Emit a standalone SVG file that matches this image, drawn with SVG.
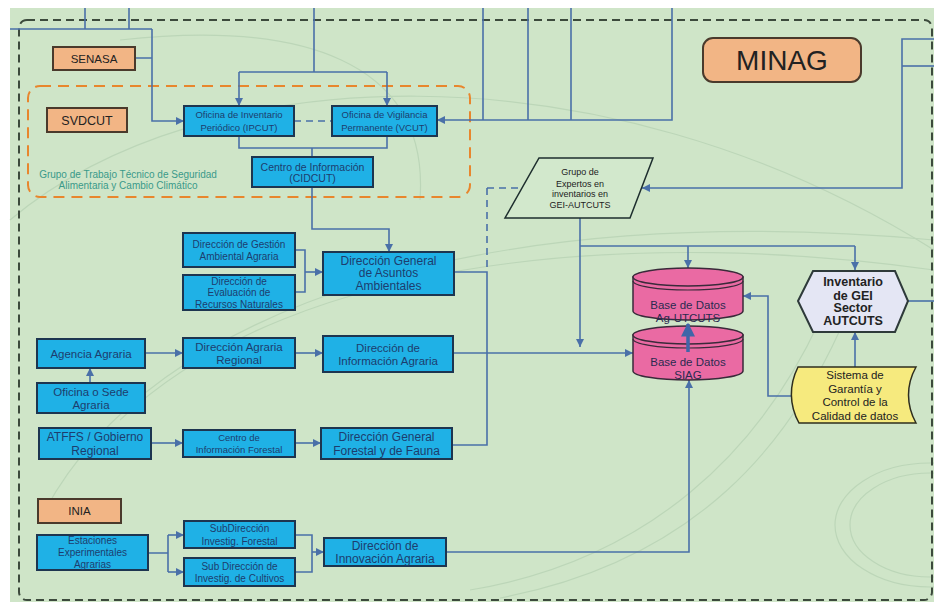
<svg xmlns="http://www.w3.org/2000/svg" width="934" height="602" viewBox="0 0 934 602">
<style>
.b{fill:#1fb1e6;stroke:#1d3550;stroke-width:2}
.o{fill:#f2b585;stroke:#4a3a2c;stroke-width:2}
.t{font-family:"Liberation Sans",Arial,sans-serif;fill:#1d3d6e;text-anchor:middle}
.k{font-family:"Liberation Sans",Arial,sans-serif;fill:#222;text-anchor:middle}
.c{fill:none;stroke:#4a70a8;stroke-width:1.6}
.a{marker-end:url(#arr)}
.cyl{fill:#ea6aa3;stroke:#3a2a3a;stroke-width:1.5}
.bgl{fill:none;stroke:#bcd6b8;stroke-width:1.2}
</style>
<defs>
<marker id="arr" viewBox="0 0 10 10" refX="10" refY="5" markerWidth="8" markerHeight="8" markerUnits="userSpaceOnUse" orient="auto"><path d="M0,0 L10,5 L0,10 z" fill="#4a70a8"/></marker>
<marker id="arrb" viewBox="0 0 10 10" refX="9" refY="5" markerWidth="14" markerHeight="14" markerUnits="userSpaceOnUse" orient="auto"><path d="M0,0 L10,5 L0,10 z" fill="#3f66a8"/></marker>
</defs>
<rect width="934" height="602" fill="#ffffff"/>
<rect x="10" y="8" width="924" height="594" fill="#cfe5c8"/>
<g id="background-arcs">
<path class="bgl" d="M10,220 C200,60 600,40 934,250"/>
<path class="bgl" d="M40,520 C150,300 500,200 934,240"/>
<path class="bgl" d="M120,420 C300,250 650,230 934,270"/>
<path class="bgl" d="M470,590 C650,560 760,450 820,320"/>
<path class="bgl" d="M500,598 C700,560 790,440 840,330"/>
<ellipse class="bgl" cx="930" cy="525" rx="95" ry="62"/>
<ellipse class="bgl" cx="930" cy="525" rx="80" ry="52"/>
<path class="bgl" d="M120,40 C300,20 430,60 420,200"/>
</g>
<rect x="19" y="20" width="913" height="580" rx="8" fill="none" stroke="#3c4a3c" stroke-width="2" stroke-dasharray="8 5"/>
<rect x="28" y="86" width="442" height="111" rx="12" fill="none" stroke="#e8862d" stroke-width="2" stroke-dasharray="11 7"/>
<g id="connectors">
<path class="c" d="M10,29 H152 M85,8 V29 M129,8 V29 M135,58 H152"/>
<path class="c a" d="M152,29 V121 H184"/>
<path class="c" d="M314,8 V72 M239,72 H387"/>
<path class="c a" d="M239,72 V106"/>
<path class="c a" d="M387,72 V106"/>
<path class="c" d="M483,8 V120 M528,8 V120 M571,8 V120"/>
<path class="c a" d="M672,8 V120 H437"/>
<path class="c" d="M294,121 H332" stroke-dasharray="7 5"/>
<path class="c" d="M239,136 V148 H387 V136 M312,148 V157"/>
<path class="c a" d="M312,187 V229 H389 V252"/>
<path class="c" d="M295,250 H305 V292 H295"/>
<path class="c a" d="M305,272 H323"/>
<path class="c" d="M454,272 H487 V445 H452"/>
<path class="c" d="M487,188 H522 M487,188 V272" stroke-dasharray="7 5"/>
<path class="c a" d="M453,353 H633" stroke-width="2.2"/>
<path class="c a" d="M580,218 V347"/>
<path class="c" d="M580,246 H855"/>
<path class="c a" d="M688,246 V268"/>
<path class="c a" d="M855,246 V270"/>
<path class="c a" d="M934,39 H902 V188 H642"/>
<path class="c" d="M934,66 H902"/>
<path class="c" d="M908,301 H934"/>
<path class="c a" d="M793,396 H768 V296 H743"/>
<path class="c a" d="M855,367 V332"/>
<path class="c a" d="M446,552 H689 V380"/>
<path class="c a" d="M145,353 H183"/>
<path class="c a" d="M295,353 H323"/>
<path class="c a" d="M90,383 V368"/>
<path class="c a" d="M151,443 H183"/>
<path class="c a" d="M295,443 H321"/>
<path class="c" d="M148,553 H168 M168,535 V572"/>
<path class="c a" d="M168,535 H184"/>
<path class="c a" d="M168,572 H184"/>
<path class="c" d="M295,535 H312 V572 H295"/>
<path class="c a" d="M312,552 H324"/>
</g>
<g id="label-grupo-trabajo">
<text class="t" x="128" y="177.5" font-size="10" style="fill:#3a9a8a">Grupo de Trabajo Técnico de Seguridad</text>
<text class="t" x="128" y="188.5" font-size="10" style="fill:#3a9a8a">Alimentaria y Cambio Climático</text>
</g>
<g id="senasa"><rect class="o" x="53" y="47" width="82" height="23"/><text class="k" x="94" y="62.5" font-size="11.5">SENASA</text></g>
<g id="svdcut"><rect class="o" x="47" y="108" width="80" height="24"/><text class="k" x="87" y="124.5" font-size="12.5">SVDCUT</text></g>
<g id="minag"><rect class="o" x="703" y="38" width="158" height="44" rx="10"/><text class="k" x="782" y="70" font-size="28">MINAG</text></g>
<g id="ipcut"><rect class="b" x="184" y="106" width="110" height="30"/><text class="t" x="239" y="117.5" font-size="9.5">Oficina de Inventario</text><text class="t" x="239" y="130.5" font-size="9.5">Periódico (IPCUT)</text></g>
<g id="vcut"><rect class="b" x="332" y="106" width="105" height="30"/><text class="t" x="384.5" y="117.5" font-size="9.5">Oficina de Vigilancia</text><text class="t" x="384.5" y="130.5" font-size="9.5">Permanente (VCUT)</text></g>
<g id="cidcut"><rect class="b" x="252" y="157" width="121" height="30"/><text class="t" x="312.5" y="170.5" font-size="10.5">Centro de Información</text><text class="t" x="312.5" y="182" font-size="10.5">(CIDCUT)</text></g>
<g id="dgga"><rect class="b" x="183" y="233" width="112" height="34"/><text class="t" x="239" y="247.5" font-size="10">Dirección de Gestión</text><text class="t" x="239" y="259.5" font-size="10">Ambiental Agraria</text></g>
<g id="dern"><rect class="b" x="183" y="275" width="112" height="35"/><text class="t" x="239" y="284.5" font-size="10">Dirección de</text><text class="t" x="239" y="296" font-size="10">Evaluación de</text><text class="t" x="239" y="307.5" font-size="10">Recursos Naturales</text></g>
<g id="dgaa"><rect class="b" x="323" y="252" width="131" height="43"/><text class="t" x="388.5" y="264.5" font-size="12">Dirección General</text><text class="t" x="388.5" y="277" font-size="12">de Asuntos</text><text class="t" x="388.5" y="289.5" font-size="12">Ambientales</text></g>
<g id="agencia"><rect class="b" x="37" y="339" width="108" height="29"/><text class="t" x="91" y="357.5" font-size="11.5">Agencia Agraria</text></g>
<g id="dar"><rect class="b" x="183" y="338" width="112" height="30"/><text class="t" x="239" y="351" font-size="11.5">Dirección Agraria</text><text class="t" x="239" y="363.5" font-size="11.5">Regional</text></g>
<g id="dia"><rect class="b" x="323" y="336" width="130" height="36"/><text class="t" x="388" y="351.5" font-size="11.5">Dirección de</text><text class="t" x="388" y="364.5" font-size="11.5">Información Agraria</text></g>
<g id="oficina-sede"><rect class="b" x="37" y="383" width="108" height="30"/><text class="t" x="91" y="395.5" font-size="11.5">Oficina o Sede</text><text class="t" x="91" y="409" font-size="11.5">Agraria</text></g>
<g id="atffs"><rect class="b" x="39" y="428" width="112" height="31"/><text class="t" x="95" y="441" font-size="12">ATFFS / Gobierno</text><text class="t" x="95" y="454.5" font-size="12">Regional</text></g>
<g id="cif"><rect class="b" x="183" y="430" width="112" height="27"/><text class="t" x="239" y="440.5" font-size="9.5">Centro de</text><text class="t" x="239" y="452.5" font-size="9.5">Información Forestal</text></g>
<g id="dgff"><rect class="b" x="321" y="428" width="131" height="31"/><text class="t" x="386.5" y="441" font-size="12">Dirección General</text><text class="t" x="386.5" y="454.5" font-size="12">Forestal y de Fauna</text></g>
<g id="inia"><rect class="o" x="38" y="499" width="83" height="24"/><text class="k" x="79.5" y="515" font-size="11.5">INIA</text></g>
<g id="estaciones"><rect class="b" x="37" y="535" width="111" height="35"/><text class="t" x="92.5" y="543.5" font-size="10">Estaciones</text><text class="t" x="92.5" y="555.5" font-size="10">Experimentales</text><text class="t" x="92.5" y="567.5" font-size="10">Agrarias</text></g>
<g id="subdir-forestal"><rect class="b" x="184" y="521" width="111" height="27"/><text class="t" x="239.5" y="531.5" font-size="10">SubDirección</text><text class="t" x="239.5" y="544.5" font-size="10">Investig. Forestal</text></g>
<g id="subdir-cultivos"><rect class="b" x="184" y="558" width="111" height="28"/><text class="t" x="239.5" y="569.5" font-size="10">Sub Dirección de</text><text class="t" x="239.5" y="582" font-size="10">Investig. de Cultivos</text></g>
<g id="dinnov"><rect class="b" x="324" y="538" width="122" height="28"/><text class="t" x="385" y="550" font-size="12">Dirección de</text><text class="t" x="385" y="562.5" font-size="12">Innovación Agraria</text></g>
<g id="grupo-expertos"><path d="M539,158 H653 L630,218 H505 Z" fill="#d2e8cc" stroke="#1e2e2e" stroke-width="1.5"/><text class="k" x="580" y="175" font-size="9">Grupo de</text><text class="k" x="580" y="186.5" font-size="9">Expertos en</text><text class="k" x="580" y="197" font-size="9">inventarios en</text><text class="k" x="580" y="208" font-size="9">GEI-AUTCUTS</text></g>
<g id="bd-siag"><path class="cyl" d="M633,335 V371 A55,9 0 0 0 743,371 V335 Z"/><ellipse class="cyl" cx="688" cy="335" rx="55" ry="9"/><path d="M633,339 A55,9 0 0 0 743,339" fill="none" stroke="#3a2a3a" stroke-width="1.2"/><text class="k" x="688" y="366" font-size="11.5" style="fill:#2a2a50">Base de Datos</text><text class="k" x="688" y="379" font-size="11.5" style="fill:#2a2a50">SIAG</text></g>
<g id="bd-agutcuts"><path class="cyl" d="M633,277 V311 A55,9 0 0 0 743,311 V277 Z"/><ellipse class="cyl" cx="688" cy="277" rx="55" ry="9"/><path d="M633,281 A55,9 0 0 0 743,281" fill="none" stroke="#3a2a3a" stroke-width="1.2"/><text class="k" x="688" y="309" font-size="11.5" style="fill:#2a2a50">Base de Datos</text><text class="k" x="688" y="322" font-size="11.5" style="fill:#2a2a50">Ag-UTCUTS</text></g>
<g id="thick-arrow"><path d="M688,352 V324" fill="none" stroke="#3f66a8" stroke-width="3.5" marker-end="url(#arrb)"/></g>
<g id="inventario-gei"><path d="M798,301 L813,271 H895 L908,301 L895,332 H813 Z" fill="#e4e6f4" stroke="#2e3a3a" stroke-width="2"/><text class="k" x="853" y="285.5" font-size="12.5" font-weight="bold">Inventario</text><text class="k" x="853" y="299.5" font-size="12.5" font-weight="bold">de GEI</text><text class="k" x="853" y="312" font-size="12.5" font-weight="bold">Sector</text><text class="k" x="853" y="325" font-size="12.5" font-weight="bold">AUTCUTS</text></g>
<g id="sistema-garantia"><path d="M798,367 H916 C906,385 906,405 916,423 H799 C789,405 789,385 798,367 Z" fill="#f6ea7e" stroke="#2e2e1e" stroke-width="1.5"/><text class="k" x="855" y="379" font-size="11.5">Sistema de</text><text class="k" x="855" y="392.5" font-size="11.5">Garantía y</text><text class="k" x="855" y="406" font-size="11.5">Control de la</text><text class="k" x="855" y="419.5" font-size="11.5">Calidad de datos</text></g>
</svg>
